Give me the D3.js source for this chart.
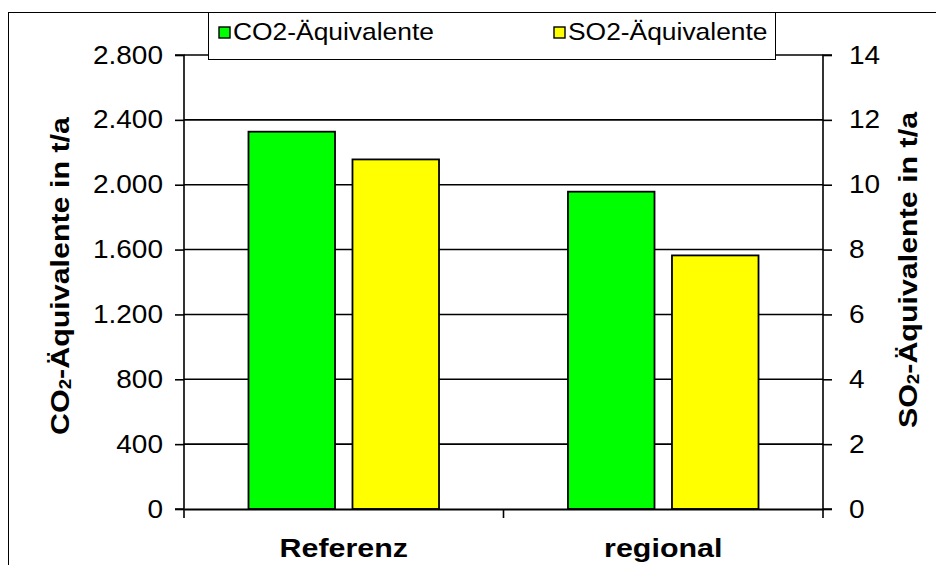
<!DOCTYPE html>
<html>
<head>
<meta charset="utf-8">
<script src="https://cdn.jsdelivr.net/npm/d3@7"></script>
<style>
  html, body { margin: 0; padding: 0; background: #fff; }
  svg { display: block; font-family: "Liberation Sans", Arial, sans-serif; }
</style>
</head>
<body>
<svg id="chart" width="936" height="565"></svg>
<script>
// Emission equivalents per scenario
const categories = ["Referenz", "regional"];
const co2Values = [2327, 1957];      // t/a, left axis
const so2Values = [10.78, 7.82];     // t/a, right axis
const co2Ticks = [0, 400, 800, 1200, 1600, 2000, 2400, 2800];
const so2Ticks = [0, 2, 4, 6, 8, 10, 12, 14];
const seriesNames = ["CO2-Äquivalente", "SO2-Äquivalente"];
const seriesColors = ["#00ff00", "#ffff00"];

const svg = d3.select("#chart");
const plot = { left: 184, right: 823, top: 55, bottom: 509 };

const x = d3.scaleBand().domain(categories).range([plot.left, plot.right]);
const inner = d3.scaleBand().domain([0, 1]).range([0, x.bandwidth()])
  .paddingInner(0.168).paddingOuter(0.62);
const yL = d3.scaleLinear().domain([0, 2800]).range([plot.bottom, plot.top]);
const yR = d3.scaleLinear().domain([0, 14]).range([plot.bottom, plot.top]);

// widen glyphs along the text direction, keeping the anchor point fixed
function widen(sel, k) {
  sel.each(function () {
    const t = d3.select(this);
    const tx = +t.attr("x") || 0, ty = +t.attr("y") || 0;
    t.attr("x", 0).attr("y", 0).attr("transform", `translate(${tx},${ty}) scale(${k},1)`);
  });
}

// outer frame
svg.append("rect").attr("x", 8.5).attr("y", 12.5).attr("width", 1000).attr("height", 1000)
  .attr("fill", "none").attr("stroke", "#000").attr("stroke-width", 1);

// horizontal gridlines
svg.append("g").selectAll("line").data(co2Ticks.slice(1)).join("line")
  .attr("x1", plot.left).attr("x2", plot.right)
  .attr("y1", d => yL(d)).attr("y2", d => yL(d))
  .attr("stroke", "#000").attr("stroke-width", 1.6);

// left axis
const axL = svg.append("g").attr("transform", `translate(${plot.left},0)`)
  .call(d3.axisLeft(yL).tickValues(co2Ticks).tickSize(9).tickPadding(12)
    .tickFormat(d => d3.format(",")(d).replace(/,/g, ".")));
// right axis
const axR = svg.append("g").attr("transform", `translate(${plot.right},0)`)
  .call(d3.axisRight(yR).tickValues(so2Ticks).tickSize(9).tickPadding(17));
[axL, axR].forEach(a => {
  a.select(".domain").attr("stroke", "#000").attr("stroke-width", 1.6);
  a.selectAll(".tick line").attr("stroke", "#000").attr("stroke-width", 1.6);
  a.selectAll(".tick text").attr("fill", "#000").attr("font-size", 25)
    .attr("font-family", "Liberation Sans, Arial, sans-serif")
    .call(widen, 1.12);
});
axL.select(".domain").attr("d", `M-9,${plot.top}H0V${plot.bottom}H-9`);
axR.select(".domain").attr("d", `M9,${plot.top}H0V${plot.bottom}H9`);

// bars
const groups = svg.append("g").selectAll("g").data(categories).join("g")
  .attr("transform", d => `translate(${x(d)},0)`);
groups.append("rect")
  .attr("x", inner(0)).attr("width", inner.bandwidth())
  .attr("y", (d, i) => yL(co2Values[i])).attr("height", (d, i) => plot.bottom - yL(co2Values[i]))
  .attr("fill", seriesColors[0]).attr("stroke", "#000").attr("stroke-width", 1.8);
groups.append("rect")
  .attr("x", inner(1)).attr("width", inner.bandwidth())
  .attr("y", (d, i) => yR(so2Values[i])).attr("height", (d, i) => plot.bottom - yR(so2Values[i]))
  .attr("fill", seriesColors[1]).attr("stroke", "#000").attr("stroke-width", 1.8);

// bottom category axis
const axB = svg.append("g").attr("transform", `translate(0,${plot.bottom})`)
  .call(d3.axisBottom(x).tickValues([]).tickSizeOuter(0));
axB.select(".domain").attr("stroke", "#000").attr("stroke-width", 2.2);
const sep = [plot.left, x(categories[1]), plot.right];
svg.append("g").selectAll("line").data(sep).join("line")
  .attr("x1", d => d).attr("x2", d => d)
  .attr("y1", plot.bottom).attr("y2", plot.bottom + 9)
  .attr("stroke", "#000").attr("stroke-width", 1.6);
svg.append("g").selectAll("text").data(categories).join("text")
  .attr("x", d => x(d) + x.bandwidth() / 2).attr("y", 557)
  .attr("text-anchor", "middle").attr("font-size", 26).attr("font-weight", "bold")
  .text(d => d)
  .call(widen, 1.17);

// axis titles with subscript 2
function title(cx, cy, base) {
  const t = svg.append("text")
    .attr("transform", `translate(${cx},${cy}) rotate(-90) scale(1.17,1)`)
    .attr("text-anchor", "middle").attr("font-size", 26).attr("font-weight", "bold");
  t.append("tspan").text(base);
  t.append("tspan").attr("font-size", 16).attr("dy", 2).text("2");
  t.append("tspan").attr("dy", -2).text("-Äquivalente in t/a");
}
title(69, 276, "CO");
title(917, 270, "SO");

// legend
const lg = svg.append("g");
lg.append("rect").attr("x", 208.5).attr("y", 12.5).attr("width", 567).attr("height", 47)
  .attr("fill", "#fff").attr("stroke", "#000").attr("stroke-width", 1);
const lx = [219, 554];
seriesNames.forEach((name, i) => {
  lg.append("rect").attr("x", lx[i]).attr("y", 27).attr("width", 11).attr("height", 11)
    .attr("fill", seriesColors[i]).attr("stroke", "#000").attr("stroke-width", 1.4);
  lg.append("text").attr("x", lx[i] + 14).attr("y", 40).attr("font-size", 24).text(name)
    .call(widen, 1.1);
});
</script>
</body>
</html>
